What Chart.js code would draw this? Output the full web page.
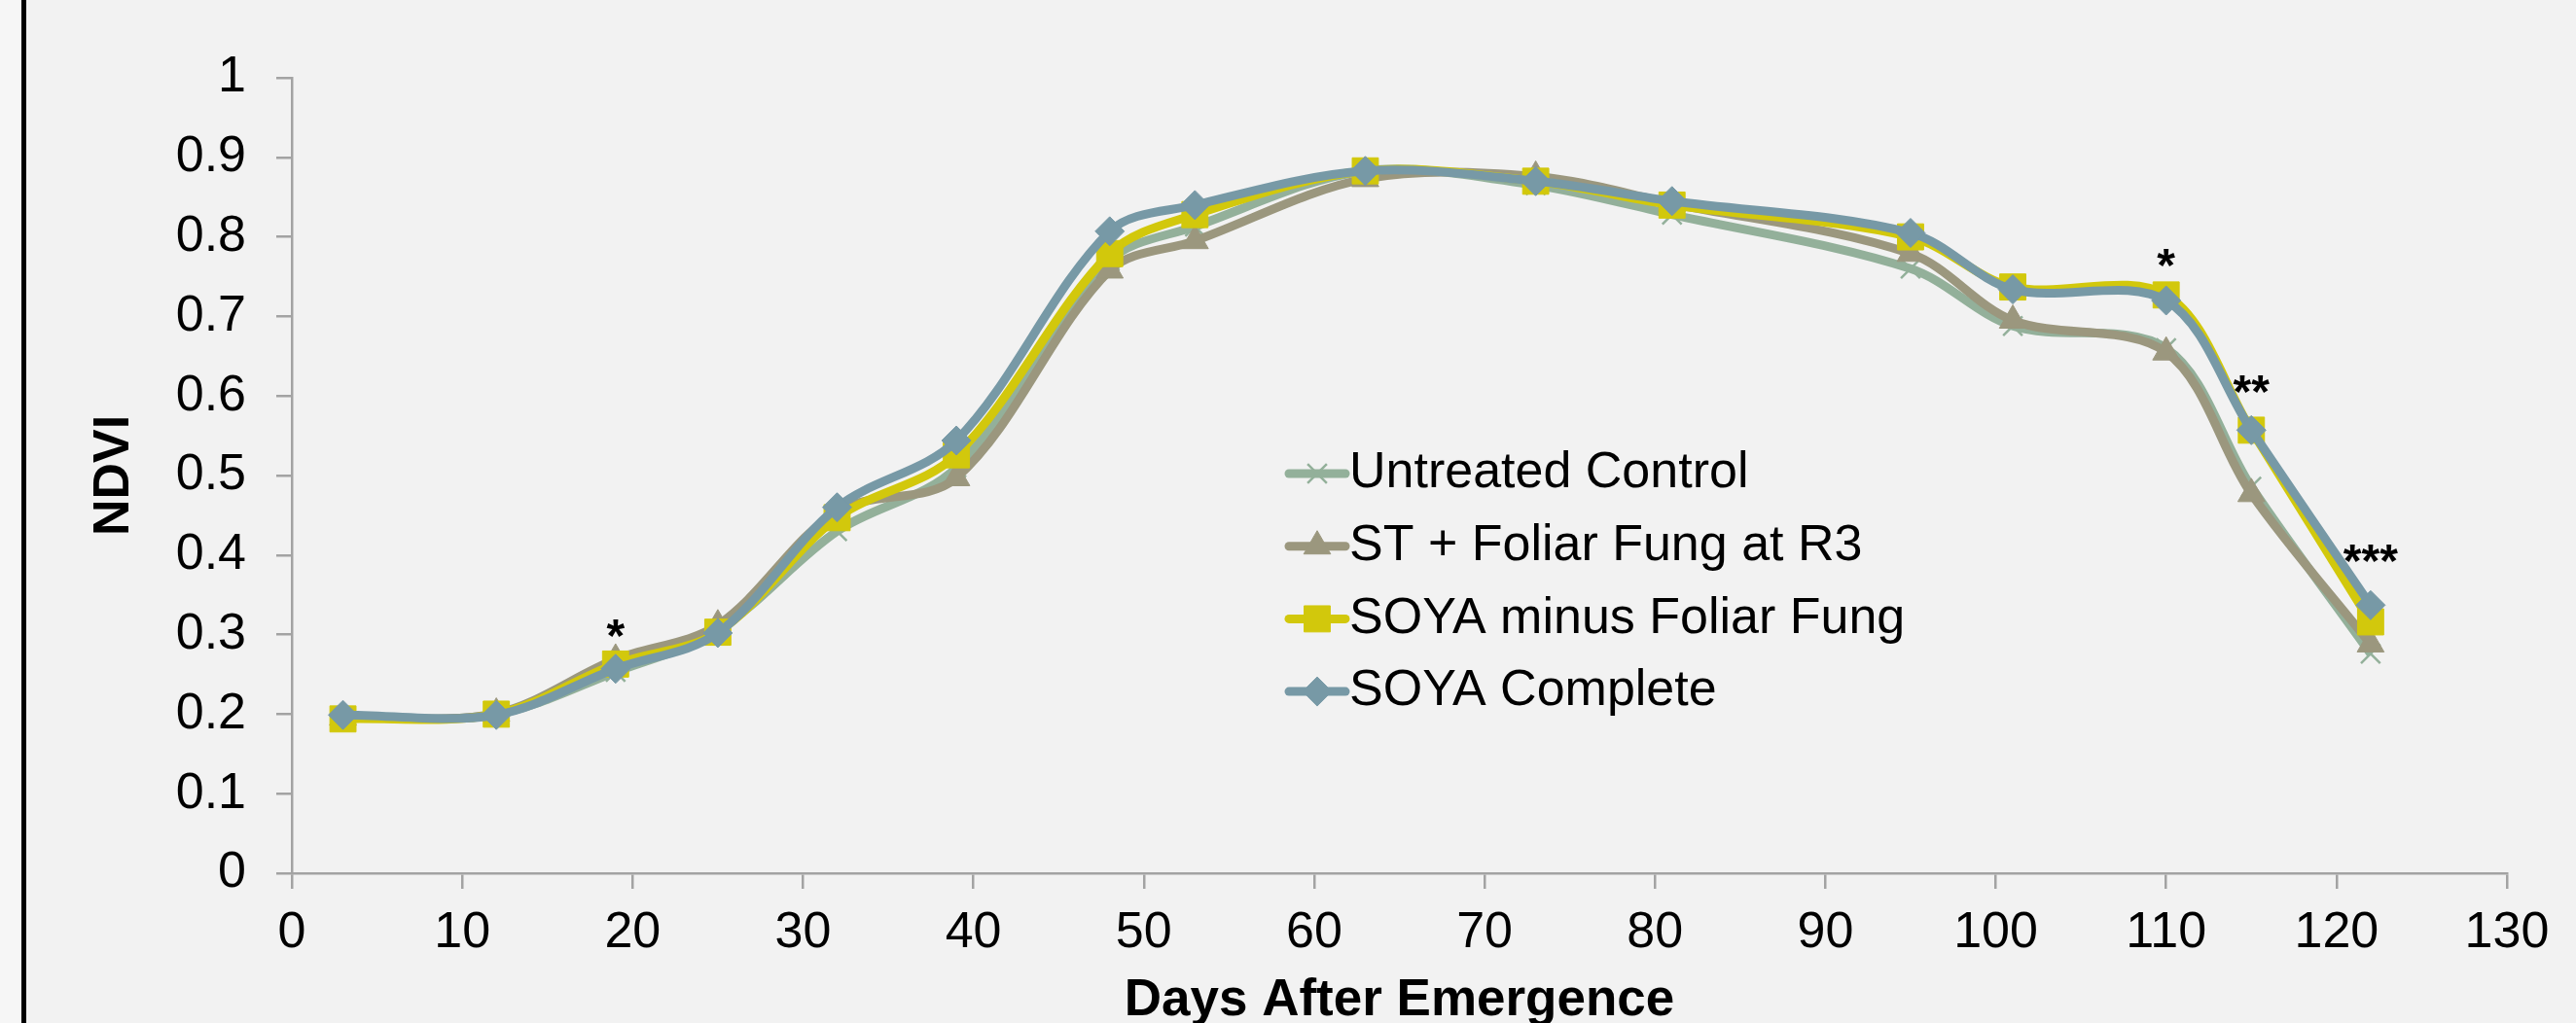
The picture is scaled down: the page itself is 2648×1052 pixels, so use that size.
<!DOCTYPE html>
<html>
<head>
    <title>NDVI by Days After Emergence</title>
    <script src="https://cdn.jsdelivr.net/npm/chart.js"></script>
    <style>
        body {
            margin: 0;
            background-color: #f2f2f2;
            overflow: hidden;
            font-family: "Liberation Sans", Arial, sans-serif;
        }
        .wrap {
            position: relative;
            width: 2648px;
            height: 1052px;
        }
        .edge {
            position: absolute;
            left: 0;
            top: 0;
            width: 22px;
            height: 1052px;
            background-color: #f6f6f6;
        }
        .rule {
            position: absolute;
            left: 22px;
            top: 0;
            width: 5px;
            height: 1052px;
            background-color: #000;
        }
        canvas {
            position: absolute;
            left: 0;
            top: 0;
        }
    </style>
</head>
<body>
    <div class="wrap">
        <div class="edge"></div>
        <div class="rule"></div>
        <canvas id="myChart" width="2648" height="1052"></canvas>
    </div>

    <script>
        // days after emergence (x) and NDVI per treatment
        const days = [3, 12, 19, 25, 32, 39, 48, 53, 63, 73, 81, 95, 101, 110, 115, 122];
        const untreated    = [0.195, 0.200, 0.253, 0.305, 0.430, 0.510, 0.770, 0.813, 0.883, 0.865, 0.828, 0.760, 0.688, 0.660, 0.486, 0.276];
        const stFoliar     = [0.196, 0.201, 0.269, 0.312, 0.455, 0.497, 0.758, 0.795, 0.873, 0.876, 0.842, 0.779, 0.695, 0.655, 0.477, 0.288];
        const soyaMinus    = [0.194, 0.200, 0.263, 0.303, 0.447, 0.526, 0.779, 0.828, 0.883, 0.870, 0.840, 0.800, 0.737, 0.727, 0.557, 0.316];
        const soyaComplete = [0.199, 0.199, 0.257, 0.302, 0.460, 0.544, 0.807, 0.840, 0.883, 0.870, 0.845, 0.805, 0.734, 0.720, 0.557, 0.337];

        const seriesNames = ['Untreated Control', 'ST + Foliar Fung at R3', 'SOYA minus Foliar Fung', 'SOYA Complete'];

        // significance marks: day, text, NDVI level where the mark sits
        const sigDays = [19, 110, 115, 122];
        const sigMarks = ['*', '*', '**', '***'];
        const sigLevel = [0.307, 0.773, 0.614, 0.401];

        const dayTicks = [0, 10, 20, 30, 40, 50, 60, 70, 80, 90, 100, 110, 120, 130];
        const ndviTicks = [0, 0.1, 0.2, 0.3, 0.4, 0.5, 0.6, 0.7, 0.8, 0.9, 1];

        const FONT = '"Liberation Sans", Arial, sans-serif';
        const axisGrey = '#a3a3a3';

        const toPoints = vals => vals.map((v, i) => ({ x: days[i], y: v }));

        const styles = [
            { color: '#93b09a', pointStyle: 'crossRot', radius: 14, borderWidth: 2.5 },
            { color: '#9b977e', pointStyle: 'triangle', radius: 16, borderWidth: 1 },
            { color: '#d2c80c', pointStyle: 'rect', radius: 19, borderWidth: 1 },
            { color: '#7799a6', pointStyle: 'rectRot', radius: 15, borderWidth: 1 }
        ];

        const allSeries = [untreated, stFoliar, soyaMinus, soyaComplete];

        const datasets = allSeries.map((vals, i) => ({
            label: seriesNames[i],
            data: toPoints(vals),
            borderColor: styles[i].color,
            backgroundColor: styles[i].color,
            borderWidth: 9,
            tension: 0.33,
            pointStyle: styles[i].pointStyle,
            pointRadius: styles[i].radius,
            pointHoverRadius: styles[i].radius,
            pointBorderWidth: styles[i].borderWidth,
            pointBorderColor: styles[i].color,
            pointBackgroundColor: styles[i].color,
            order: allSeries.length - i
        }));

        // legend drawn inside the plot area, Excel style
        const insideLegend = {
            id: 'insideLegend',
            afterDraw(chart) {
                const ctx = chart.ctx;
                const x0 = 1325, x1 = 1383, top = 487, step = 74.7;
                ctx.save();
                seriesNames.forEach((name, i) => {
                    const y = top + i * step;
                    const s = styles[i];
                    ctx.strokeStyle = s.color;
                    ctx.lineWidth = 9;
                    ctx.lineCap = 'round';
                    ctx.beginPath();
                    ctx.moveTo(x0, y);
                    ctx.lineTo(x1, y);
                    ctx.stroke();
                    ctx.lineCap = 'butt';
                    ctx.fillStyle = s.color;
                    ctx.lineWidth = s.borderWidth;
                    Chart.helpers.drawPoint(ctx, {
                        pointStyle: s.pointStyle,
                        radius: s.radius,
                        rotation: 0,
                        borderWidth: s.borderWidth
                    }, (x0 + x1) / 2, y);
                    ctx.fillStyle = '#000';
                    ctx.font = '52px ' + FONT;
                    ctx.textAlign = 'left';
                    ctx.textBaseline = 'middle';
                    ctx.fillText(name, 1387, y);
                });
                ctx.restore();
            }
        };

        const sigPlugin = {
            id: 'sigMarks',
            afterDatasetsDraw(chart) {
                const ctx = chart.ctx;
                const xs = chart.scales.x, ys = chart.scales.y;
                ctx.save();
                ctx.fillStyle = '#000';
                ctx.font = 'bold 48px ' + FONT;
                ctx.textAlign = 'center';
                ctx.textBaseline = 'alphabetic';
                sigDays.forEach((d, i) => {
                    const px = xs.getPixelForValue(d);
                    const py = ys.getPixelForValue(sigLevel[i]);
                    ctx.fillText(sigMarks[i], px, py + 23);
                });
                ctx.restore();
            }
        };

        window.addEventListener('load', function() {
            const ctx = document.getElementById('myChart');
            new Chart(ctx, {
                type: 'line',
                data: { datasets: datasets },
                options: {
                    responsive: false,
                    animation: false,
                    devicePixelRatio: 1,
                    layout: {
                        padding: { left: 0, right: 71, top: 80, bottom: 0 }
                    },
                    scales: {
                        x: {
                            type: 'linear',
                            min: 0,
                            max: 130,
                            afterBuildTicks: s => { s.ticks = dayTicks.map(v => ({ value: v })); },
                            afterFit: s => { s.height = 154; },
                            grid: {
                                drawOnChartArea: false,
                                drawTicks: true,
                                tickLength: 16,
                                color: axisGrey,
                                lineWidth: 2.5
                            },
                            border: { color: axisGrey, width: 2.5 },
                            ticks: {
                                padding: 14,
                                color: '#000',
                                font: { family: FONT, size: 52 },
                                maxRotation: 0,
                                autoSkip: false,
                                callback: v => String(v)
                            },
                            title: {
                                display: true,
                                text: 'Days After Emergence',
                                color: '#000',
                                padding: 0,
                                font: { family: FONT, size: 53, weight: 'bold', lineHeight: 0.85 }
                            }
                        },
                        y: {
                            min: 0,
                            max: 1,
                            afterBuildTicks: s => { s.ticks = ndviTicks.map(v => ({ value: v })); },
                            afterFit: s => { s.width = 300; },
                            grid: {
                                drawOnChartArea: false,
                                drawTicks: true,
                                tickLength: 16,
                                color: axisGrey,
                                lineWidth: 2.5
                            },
                            border: { color: axisGrey, width: 2.5 },
                            ticks: {
                                padding: 31,
                                color: '#000',
                                font: { family: FONT, size: 52 },
                                autoSkip: false,
                                callback: v => String(v)
                            },
                            title: {
                                display: true,
                                text: 'NDVI',
                                color: '#000',
                                padding: { top: 92, bottom: 0 },
                                font: { family: FONT, size: 52, weight: 'bold', lineHeight: 1 }
                            }
                        }
                    },
                    plugins: {
                        legend: { display: false },
                        tooltip: { enabled: false }
                    }
                },
                plugins: [sigPlugin, insideLegend]
            });
        });
    </script>
</body>
</html>
